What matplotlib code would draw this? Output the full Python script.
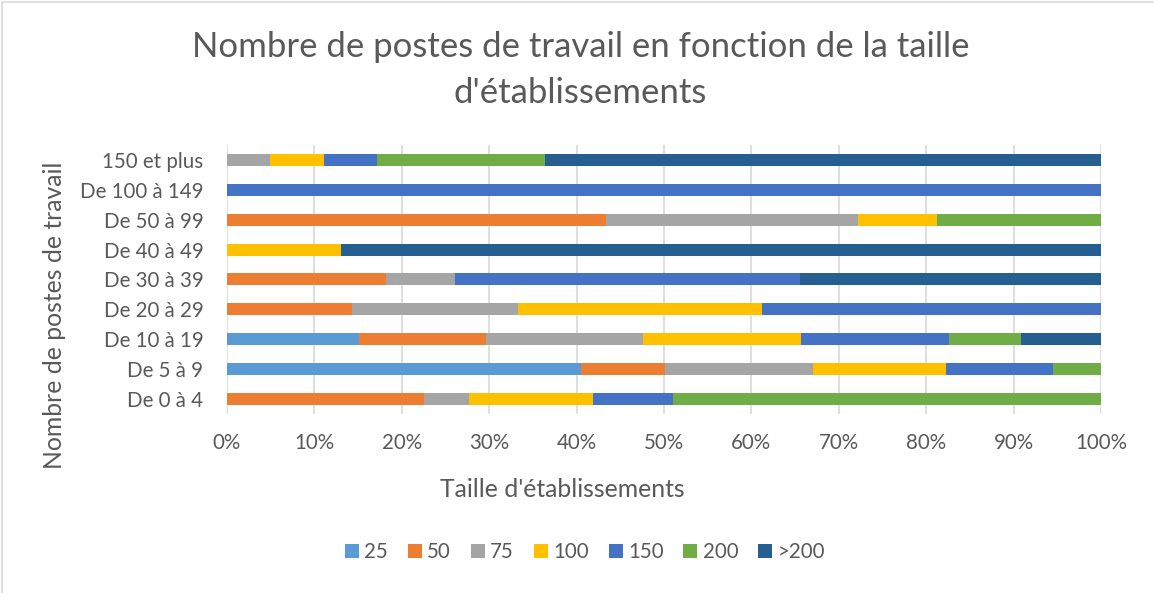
import matplotlib.pyplot as plt
import numpy as np
from matplotlib.patches import Rectangle

# Shares (%) of each workplace-size class for every establishment size band
categories = ['De 0 à 4', 'De 5 à 9', 'De 10 à 19', 'De 20 à 29', 'De 30 à 39',
              'De 40 à 49', 'De 50 à 99', 'De 100 à 149', '150 et plus']
series_names = ['25', '50', '75', '100', '150', '200', '>200']

s25 = [0.0, 40.5, 15.1, 0.0, 0.0, 0.0, 0.0, 0.0, 0.0]
s50 = [22.5, 9.6, 14.5, 14.3, 18.2, 0.0, 43.4, 0.0, 0.0]
s75 = [5.2, 16.9, 18.0, 19.0, 7.9, 0.0, 28.8, 0.0, 4.9]
s100 = [14.2, 15.3, 18.1, 27.9, 0.0, 13.0, 9.0, 0.0, 6.2]
s150 = [9.1, 12.2, 16.9, 38.8, 39.5, 0.0, 0.0, 100.0, 6.1]
s200 = [49.0, 5.5, 8.2, 0.0, 0.0, 0.0, 18.8, 0.0, 19.2]
s200p = [0.0, 0.0, 9.2, 0.0, 34.4, 87.0, 0.0, 0.0, 63.6]

colors = ['#5B9BD5', '#ED7D31', '#A5A5A5', '#FFC000', '#4472C4', '#70AD47', '#255E91']
text_color = '#595959'

plt.rcParams['font.family'] = ['Lato', 'DejaVu Sans']

fig = plt.figure(figsize=(11.54, 5.93), dpi=100)
ax = fig.add_axes([0.1967, 0.302, 0.7574, 0.4536])

data = np.array([s25, s50, s75, s100, s150, s200, s200p])
totals = data.sum(axis=0)
shares = data / totals
y = np.arange(len(categories))
left = np.zeros(len(categories))
for name, vals, col in zip(series_names, shares, colors):
    ax.barh(y, vals, left=left, height=0.4, color=col, label=name, zorder=3)
    left += vals

ax.set_xlim(0, 1)
ax.set_ylim(-0.5, len(categories) - 0.5)
ax.set_xticks(np.linspace(0, 1, 11))
ax.set_xticklabels([f'{int(v)}%' for v in np.linspace(0, 100, 11)])
ax.set_yticks(y)
ax.set_yticklabels(categories)
ax.grid(axis='x', color='#D9D9D9', linewidth=1.2, zorder=0)
ax.tick_params(length=0, labelsize=14.8, colors=text_color)
ax.tick_params(axis='y', pad=17)
ax.tick_params(axis='x', pad=14)
for sp in ax.spines.values():
    sp.set_visible(False)

fig.text(0.487, 0.174, "Taille d'établissements", fontsize=17.8,
         color=text_color, ha='center', va='center')
fig.text(0.047, 0.469, 'Nombre de postes de travail', rotation=90, fontsize=17.8,
         color=text_color, ha='center', va='center')

fig.text(0.503, 0.921, 'Nombre de postes de travail en fonction de la taille',
         fontsize=25, color=text_color, ha='center', va='center')
fig.text(0.503, 0.843, "d'établissements",
         fontsize=25, color=text_color, ha='center', va='center')

fig.legend(loc='center', bbox_to_anchor=(0.507, 0.069), ncol=7, frameon=False,
           fontsize=14.8, handlelength=0.68, handleheight=0.68, handletextpad=0.28,
           columnspacing=0.95, labelcolor=text_color)

fig.patches.append(Rectangle((0.002, -0.02), 1.05, 1.017, transform=fig.transFigure,
                             fill=False, edgecolor='#D9D9D9', linewidth=1.2))

fig.savefig('out.png', dpi=100)
